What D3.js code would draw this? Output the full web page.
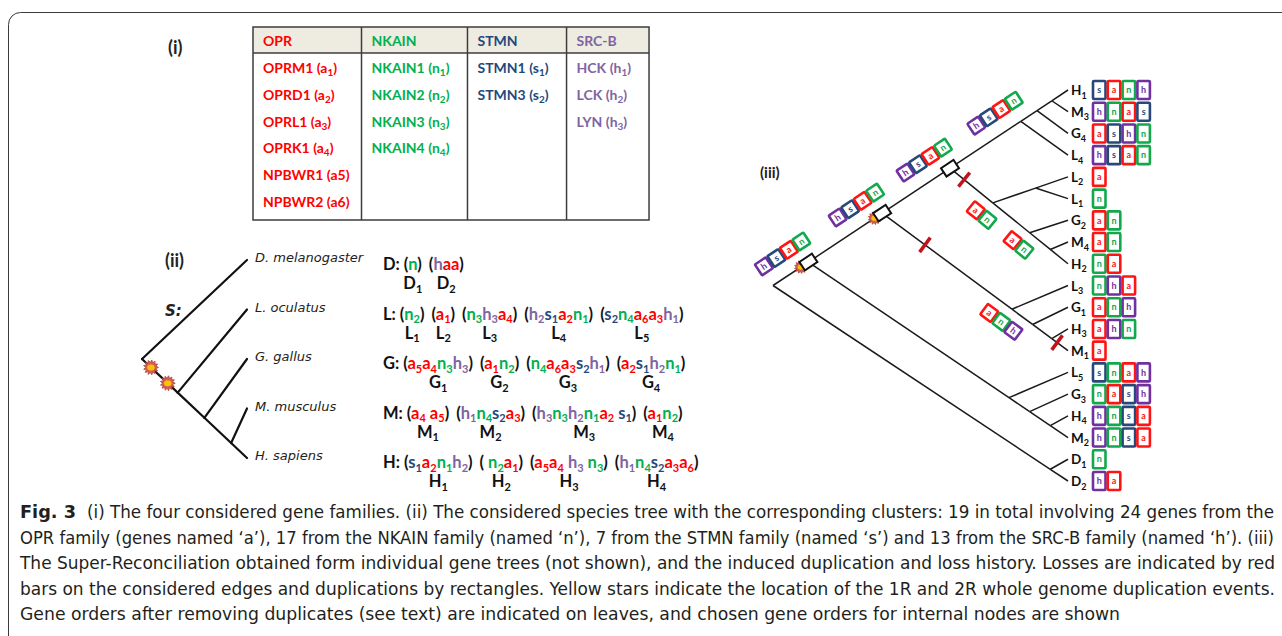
<!DOCTYPE html>
<html>
<head>
<meta charset="utf-8">
<script src="https://cdn.jsdelivr.net/npm/d3@7"></script>
<style>
  body { margin: 0; background: #fff; }
  svg { display: block; }
</style>
</head>
<body>
<svg id="fig" width="1282" height="636"></svg>
<script>
// ---------- data ----------
const familyNames = ["OPR", "NKAIN", "STMN", "SRC-B"];
const familyKeys = ["a", "n", "s", "h"];
const genesOPR = ["OPRM1 (a_1)", "OPRD1 (a_2)", "OPRL1 (a_3)", "OPRK1 (a_4)", "NPBWR1 (a5)", "NPBWR2 (a6)"];
const genesNKAIN = ["NKAIN1 (n_1)", "NKAIN2 (n_2)", "NKAIN3 (n_3)", "NKAIN4 (n_4)"];
const genesSTMN = ["STMN1 (s_1)", "STMN3 (s_2)"];
const genesSRCB = ["HCK (h_1)", "LCK (h_2)", "LYN (h_3)"];

const speciesNames = ["D. melanogaster", "L. oculatus", "G. gallus", "M. musculus", "H. sapiens"];
const speciesCodes = ["D", "L", "G", "M", "H"];
// species tree S, branch lengths in relative depth units
const speciesNewick = "(D:100,(L:66,(G:40.6,(M:15.1,H:15.1)MH:25.5)GMH:25.4)V:34)S;";

const clustersD = ["n", "haa"];
const clustersL = ["n_2", "a_1", "n_3h_3a_4", "h_2s_1a_2n_1", "s_2n_4a_6a_3h_1"];
const clustersG = ["a_5a_4n_3h_3", "a_1n_2", "n_4a_6a_3s_2h_1", "a_2s_1h_2n_1"];
const clustersM = ["a_4 a_5", "h_1n_4s_2a_3", "h_3n_3h_2n_1a_2 s_1", "a_1n_2"];
const clustersH = ["s_1a_2n_1h_2", " n_2a_1", "a_5a_4 h_3 n_3", "h_1n_4s_2a_3a_6"];

// super-reconciliation (iii)
const geneNewick = "(((((((H1:5.5,M3:5.5)N4m:5,G4:10.5)N4g:5.5,L4:16)N4:24,((L2:11,L1:11)N5l:14.5,(G2:13,(M4:6,H2:6)N5m:7)N5g:12.5)N5:14.5)N3:23,(L3:19,(G1:12,(H3:5.5,M1:5.5)N6m:6.5)N6g:7)N6:44)N2:25,(L5:20,(G3:13,(H4:6,M2:6)N7m:7)N7g:7)N7:68)N1:12,(D1:6,D2:6)ND:94)R;";
const leafNames = ["H1", "M3", "G4", "L4", "L2", "L1", "G2", "M4", "H2", "L3", "G1", "H3", "M1", "L5", "G3", "H4", "M2", "D1", "D2"];
const leafOrders = ["sanh", "hnas", "ashn", "hsan", "a", "n", "an", "an", "na", "nha", "anh", "ahn", "a", "snah", "nash", "hnsa", "hnsa", "n", "ha"];
const dupNodes = ["N1", "N2", "N3"];
const wgdNodes = ["N1", "N2"];
const lossEdges = ["N5", "N6", "M1"];
const internalNodes = ["N1", "N2", "N3", "N4", "N5", "N5g", "N6"];
const internalOrders = ["hsan", "hsan", "hsan", "hsan", "an", "an", "anh"];

const captionHead = "Fig. 3";
const captionLines = [
  "(i) The four considered gene families. (ii) The considered species tree with the corresponding clusters: 19 in total involving 24 genes from the",
  "OPR family (genes named \u2018a\u2019), 17 from the NKAIN family (named \u2018n\u2019), 7 from the STMN family (named \u2018s\u2019) and 13 from the SRC-B family (named \u2018h\u2019). (iii)",
  "The Super-Reconciliation obtained form individual gene trees (not shown), and the induced duplication and loss history. Losses are indicated by red",
  "bars on the considered edges and duplications by rectangles. Yellow stars indicate the location of the 1R and 2R whole genome duplication events.",
  "Gene orders after removing duplicates (see text) are indicated on leaves, and chosen gene orders for internal nodes are shown"
];

// ---------- styles ----------
const textColor = { a: "#ff0000", n: "#00b050", s: "#1f497d", h: "#8064a2" };
const boxColor = { a: "#ff1414", n: "#12a84c", s: "#27497a", h: "#7030a0" };
const sans = "Lato, 'Open Sans', sans-serif";

const svg = d3.select("#fig");

function parseNewick(s) {
  let i = 0;
  function node() {
    const n = { children: [] };
    if (s[i] === "(") {
      i++;
      n.children.push(node());
      while (s[i] === ",") { i++; n.children.push(node()); }
      i++;
    }
    let label = "";
    while (i < s.length && !",():;".includes(s[i])) label += s[i++];
    n.name = label;
    if (s[i] === ":") {
      i++;
      let num = "";
      while (i < s.length && !",();".includes(s[i])) num += s[i++];
      n.length = +num;
    }
    if (!n.children.length) delete n.children;
    return n;
  }
  return node();
}

// slanted cladogram: an upper child sits on the line to its top leaf, a lower child on the line to its bottom leaf
function layoutSlanted(root, x, yOf) {
  root.eachBefore(n => n.dist = n.parent ? n.parent.dist + n.data.length : 0);
  const leaves = root.leaves();
  leaves.forEach(l => { l.px = x(l.dist); l.py = yOf(l); });
  root.px = x(0);
  root.py = (d3.min(leaves, l => l.py) + d3.max(leaves, l => l.py)) / 2;
  root.eachBefore(n => {
    if (!n.children) return;
    n.children.forEach((c, i) => {
      if (!c.children) return;
      const lv = c.leaves();
      const target = i === 0 ? lv[0] : lv[lv.length - 1];
      c.px = x(c.dist);
      const t = (c.px - n.px) / (target.px - n.px);
      c.py = n.py + t * (target.py - n.py);
    });
  });
}

function runsOf(str, colorFn) {
  const runs = [];
  for (let i = 0; i < str.length; i++) {
    const ch = str[i];
    if (ch === "_") {
      const prev = runs.length ? runs[runs.length - 1].c : "#000";
      runs.push({ t: str[++i], c: prev, sub: true });
    } else {
      runs.push({ t: ch, c: colorFn(ch), sub: false });
    }
  }
  return runs;
}

function addRuns(text, runs, subSize, shift) {
  let down = false;
  runs.forEach(r => {
    const t = text.append("tspan").text(r.t).attr("fill", r.c);
    if (r.sub) {
      t.attr("font-size", subSize);
      if (!down) { t.attr("dy", shift); down = true; }
    } else if (down) {
      t.attr("dy", -shift);
      down = false;
    }
  });
}

function starPath(r1, r2, n) {
  const pts = d3.range(n * 2).map(i => {
    const r = i % 2 ? r2 : r1, a = i * Math.PI / n;
    return [r * Math.cos(a), r * Math.sin(a)];
  });
  return d3.line()(pts) + "Z";
}

function drawStar(layer, x, y, r) {
  const g = layer.append("g").attr("transform", `translate(${x},${y})`);
  g.append("path").attr("d", starPath(r, r * 0.68, 13)).attr("fill", "#d0605a").attr("stroke", "#b8403a").attr("stroke-width", 0.8);
  g.append("ellipse").attr("rx", r * 0.5).attr("ry", r * 0.4).attr("fill", "#ffc000");
}

// ---------- frame ----------
svg.append("rect")
  .attr("x", 8.5).attr("y", 12.5).attr("width", 1400).attr("height", 800).attr("rx", 12)
  .attr("fill", "none").attr("stroke", "#3a3a3a").attr("stroke-width", 1);

// ---------- (i) table ----------
const tbl = svg.append("g").attr("font-family", sans).attr("font-weight", "bold").attr("font-size", 14);
tbl.append("text").attr("x", 168).attr("y", 54).attr("font-size", 18).attr("fill", "#222").text("(i)");

const familyGenes = [genesOPR, genesNKAIN, genesSTMN, genesSRCB];
const rowY = d3.scalePoint().domain(d3.range(6)).range([68, 202]);
const tableTop = 27, headBottom = 53, tableBottom = 220;
let colX = [253];
familyGenes.forEach((genes, c) => {
  const col = familyKeys[c];
  const x0 = colX[c] + 10;
  let maxW = 0;
  const head = tbl.append("text").attr("x", x0).attr("y", 46).attr("fill", textColor[col]).text(familyNames[c]);
  maxW = head.node().getComputedTextLength();
  genes.forEach((gname, r) => {
    const t = tbl.append("text").attr("x", x0).attr("y", rowY(r) + 5);
    addRuns(t, runsOf(gname, () => textColor[col]), 10, 3);
    maxW = Math.max(maxW, t.node().getComputedTextLength());
  });
  colX.push(colX[c] + maxW + (c === 0 ? 22 : 28));
});
const tableRight = colX[colX.length - 1];
tbl.insert("rect", ":first-child").attr("x", 253).attr("y", tableTop).attr("width", tableRight - 253).attr("height", headBottom - tableTop)
  .attr("fill", "#eeece1");
const gridStroke = "#3c3c3c";
tbl.append("rect").attr("x", 253).attr("y", tableTop).attr("width", tableRight - 253).attr("height", tableBottom - tableTop)
  .attr("fill", "none").attr("stroke", gridStroke).attr("stroke-width", 1.5);
tbl.append("line").attr("x1", 253).attr("x2", tableRight).attr("y1", headBottom).attr("y2", headBottom)
  .attr("stroke", gridStroke).attr("stroke-width", 1.5);
colX.slice(1, -1).forEach(x => {
  tbl.append("line").attr("x1", x).attr("x2", x).attr("y1", tableTop).attr("y2", tableBottom)
    .attr("stroke", gridStroke).attr("stroke-width", 1.5);
});

// ---------- (ii) species tree + clusters ----------
const sp = svg.append("g");
sp.append("text").attr("x", 165).attr("y", 267).attr("font-family", sans).attr("font-weight", "bold")
  .attr("font-size", 18).attr("fill", "#222").text("(ii)");
sp.append("text").attr("x", 165).attr("y", 316).attr("font-family", "'DejaVu Sans', sans-serif").attr("font-weight", "bold")
  .attr("font-style", "italic").attr("font-size", 15).attr("fill", "#222").text("S:");

const sRoot = d3.hierarchy(parseNewick(speciesNewick));
const sx = d3.scaleLinear().domain([0, 100]).range([142, 247]);
const sy = d3.scalePoint().domain(speciesCodes).range([260, 458]);
layoutSlanted(sRoot, sx, l => sy(l.data.name));

sp.selectAll(".slink").data(sRoot.links()).join("line")
  .attr("x1", d => d.source.px).attr("y1", d => d.source.py)
  .attr("x2", d => d.target.px).attr("y2", d => d.target.py)
  .attr("stroke", "#111").attr("stroke-width", 2.2).attr("stroke-linecap", "round");

// 1R and 2R on the edge leading to the vertebrates
const vNode = sRoot.descendants().find(n => n.data.name === "V");
[0.25, 0.72].forEach(f => {
  drawStar(sp, vNode.parent.px + f * (vNode.px - vNode.parent.px), vNode.parent.py + f * (vNode.py - vNode.parent.py), 7.5);
});

sp.selectAll(".sname").data(sRoot.leaves()).join("text")
  .attr("x", 255).attr("y", d => d.py + 2)
  .attr("font-family", "'DejaVu Sans', sans-serif").attr("font-style", "italic").attr("font-size", 13)
  .attr("fill", "#222").text((d, i) => speciesNames[i]);

const clusterRows = [clustersD, clustersL, clustersG, clustersM, clustersH];
const cl = svg.append("g").attr("font-family", sans).attr("font-weight", "bold").attr("font-size", 16.5);
speciesCodes.forEach((code, r) => {
  const y = sy(code) + 10;
  let x = 383;
  const head = cl.append("text").attr("x", x).attr("y", y).attr("fill", "#111").text(code + ":");
  x += head.node().getComputedTextLength() + 4;
  clusterRows[r].forEach((c, k) => {
    const t = cl.append("text").attr("x", x).attr("y", y);
    addRuns(t, runsOf("(" + c + ")", ch => textColor[ch] || "#111"), 11, 3.5);
    const w = t.node().getComputedTextLength();
    const lab = cl.append("text").attr("x", x + w / 2).attr("y", y + 19).attr("text-anchor", "middle");
    addRuns(lab, runsOf(code + "_" + (k + 1), () => "#111"), 11, 3.5);
    x += w + 7;
  });
});

// ---------- (iii) super-reconciliation ----------
const tr = svg.append("g");
tr.append("text").attr("x", 760).attr("y", 178).attr("font-family", sans).attr("font-weight", "bold")
  .attr("font-size", 15).attr("fill", "#222").text("(iii)");

const gRoot = d3.hierarchy(parseNewick(geneNewick));
const gx = d3.scaleLinear().domain([0, 100]).range([773, 1068]);
const gy = d3.scalePoint().domain(leafNames).range([90, 481]);
layoutSlanted(gRoot, gx, l => gy(l.data.name));
const byName = new Map(gRoot.descendants().map(n => [n.data.name, n]));

tr.selectAll(".glink").data(gRoot.links()).join("line")
  .attr("x1", d => d.source.px).attr("y1", d => d.source.py)
  .attr("x2", d => d.target.px).attr("y2", d => d.target.py)
  .attr("stroke", "#1a1a1a").attr("stroke-width", 1.5);

function edgeAngle(n) { return Math.atan2(n.py - n.parent.py, n.px - n.parent.px); }

// losses: red bars across the edge
lossEdges.forEach(name => {
  const n = byName.get(name), p = n.parent, a = edgeAngle(n);
  const cx = p.px + 0.33 * (n.px - p.px), cy = p.py + 0.33 * (n.py - p.py);
  tr.append("line")
    .attr("x1", cx - 9 * Math.sin(a)).attr("y1", cy + 9 * Math.cos(a))
    .attr("x2", cx + 9 * Math.sin(a)).attr("y2", cy - 9 * Math.cos(a))
    .attr("stroke", "#c0141c").attr("stroke-width", 3.5);
});

// gene orders of internal nodes
internalNodes.forEach((name, k) => {
  const n = byName.get(name), a = edgeAngle(n), order = internalOrders[k];
  const u = [Math.cos(a), Math.sin(a)];
  const nrm = a < 0 ? [Math.sin(a), -Math.cos(a)] : [-Math.sin(a), Math.cos(a)];
  const along = a < 0 ? -17 : -1, perp = a < 0 ? 21 : 16.5;
  const cx = n.px + u[0] * along + nrm[0] * perp, cy = n.py + u[1] * along + nrm[1] * perp;
  const grp = tr.append("g").attr("transform", `translate(${cx},${cy}) rotate(${a * 180 / Math.PI})`);
  order.split("").forEach((ch, i) => {
    const bx = (i - (order.length - 1) / 2) * 15;
    grp.append("rect").attr("x", bx - 6.5).attr("y", -6.5).attr("width", 13).attr("height", 13).attr("rx", 1)
      .attr("fill", "#fff").attr("stroke", boxColor[ch]).attr("stroke-width", 2.6);
    grp.append("text").attr("x", bx).attr("y", 3).attr("text-anchor", "middle")
      .attr("font-family", sans).attr("font-weight", "bold").attr("font-size", 9).attr("fill", boxColor[ch]).text(ch);
  });
});

// WGD stars and duplication rectangles
wgdNodes.forEach(name => {
  const n = byName.get(name), a = edgeAngle(n);
  drawStar(tr, n.px - 9 * Math.cos(a), n.py - 9 * Math.sin(a), 6.5);
});
dupNodes.forEach(name => {
  const n = byName.get(name), a = edgeAngle(n);
  tr.append("rect").attr("x", -7.5).attr("y", -5).attr("width", 15).attr("height", 10)
    .attr("transform", `translate(${n.px},${n.py}) rotate(${a * 180 / Math.PI})`)
    .attr("fill", "#fff").attr("stroke", "#111").attr("stroke-width", 2);
});

// leaves: label + gene order
gRoot.leaves().forEach(l => {
  const i = leafNames.indexOf(l.data.name);
  const t = tr.append("text").attr("x", 1071).attr("y", l.py + 5)
    .attr("font-family", sans).attr("font-weight", "bold").attr("font-size", 13.5);
  addRuns(t, runsOf(l.data.name[0] + "_" + l.data.name.slice(1), () => "#111"), 9, 3.5);
  leafOrders[i].split("").forEach((ch, j) => {
    const bx = 1093 + j * 14.8;
    tr.append("rect").attr("x", bx).attr("y", l.py - 9).attr("width", 12.5).attr("height", 18).attr("rx", 1)
      .attr("fill", "#fff").attr("stroke", boxColor[ch]).attr("stroke-width", 2.6);
    tr.append("text").attr("x", bx + 6.25).attr("y", l.py + 3.2).attr("text-anchor", "middle")
      .attr("font-family", sans).attr("font-weight", "bold").attr("font-size", 9).attr("fill", boxColor[ch]).text(ch);
  });
});

// ---------- caption ----------
const cap = svg.append("g").attr("font-family", "'Liberation Sans Narrow', 'DejaVu Sans Condensed', Roboto, sans-serif")
  .attr("font-size", 17).attr("fill", "#231f20");
const capY = d3.scalePoint().domain(d3.range(captionLines.length)).range([518, 620]);
cap.append("text").attr("x", 20).attr("y", capY(0)).attr("font-weight", "bold").attr("textLength", 56)
  .attr("lengthAdjust", "spacingAndGlyphs").text(captionHead);
const capWidths = [1274 - 87, 1274 - 20, 1275 - 20, 1275 - 20, 1120 - 20];
captionLines.forEach((line, i) => {
  cap.append("text").attr("x", i === 0 ? 87 : 20).attr("y", capY(i))
    .attr("textLength", capWidths[i]).attr("lengthAdjust", "spacingAndGlyphs").text(line);
});
</script>
</body>
</html>
